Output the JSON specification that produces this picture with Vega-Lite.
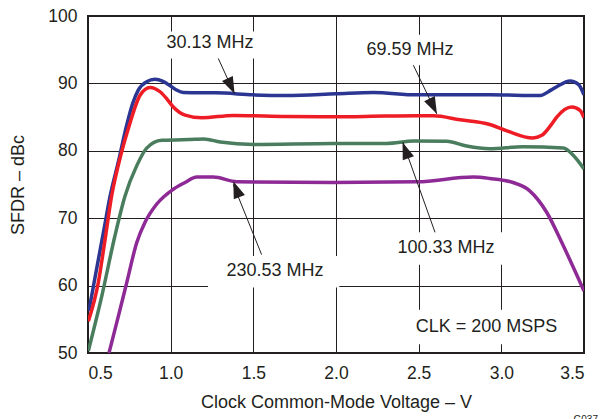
{
  "$schema": "https://vega.github.io/schema/vega-lite/v6.json",
  "width": 496,
  "height": 337,
  "autosize": {"type": "none"},
  "padding": {"left": 88, "top": 16, "right": 32, "bottom": 66},
  "background": "white",
  "config": {
    "font": "Liberation Sans",
    "view": {"stroke": "#231F20", "strokeWidth": 2},
    "axis": {
      "grid": true, "gridColor": "#231F20", "gridWidth": 1, "gridOpacity": 1,
      "domain": false, "ticks": false,
      "labelFont": "Liberation Sans", "labelFontSize": 17.5, "labelColor": "#231F20",
      "titleFont": "Liberation Sans", "titleFontSize": 18, "titleFontWeight": "normal", "titleColor": "#231F20"
    }
  },
  "title": {"text": "G037", "orient": "bottom", "anchor": "end", "fontSize": 10, "fontWeight": "normal", "color": "#231F20", "dx": 14, "offset": 3},
  "datasets": {
    "curves": [
      {"series": "30.13 MHz", "x": 0.505, "y": 56.2},
      {"series": "30.13 MHz", "x": 0.55, "y": 62.2},
      {"series": "30.13 MHz", "x": 0.6, "y": 68.8},
      {"series": "30.13 MHz", "x": 0.633, "y": 73.2},
      {"series": "30.13 MHz", "x": 0.683, "y": 78.3},
      {"series": "30.13 MHz", "x": 0.734, "y": 83.8},
      {"series": "30.13 MHz", "x": 0.77, "y": 87.0},
      {"series": "30.13 MHz", "x": 0.804, "y": 89.0},
      {"series": "30.13 MHz", "x": 0.855, "y": 90.25},
      {"series": "30.13 MHz", "x": 0.905, "y": 90.6},
      {"series": "30.13 MHz", "x": 0.95, "y": 90.35},
      {"series": "30.13 MHz", "x": 0.976, "y": 90.0},
      {"series": "30.13 MHz", "x": 1.03, "y": 89.1},
      {"series": "30.13 MHz", "x": 1.077, "y": 88.65},
      {"series": "30.13 MHz", "x": 1.177, "y": 88.6},
      {"series": "30.13 MHz", "x": 1.27, "y": 88.6},
      {"series": "30.13 MHz", "x": 1.5, "y": 88.3},
      {"series": "30.13 MHz", "x": 1.7, "y": 88.2},
      {"series": "30.13 MHz", "x": 2.0, "y": 88.45},
      {"series": "30.13 MHz", "x": 2.226, "y": 88.65},
      {"series": "30.13 MHz", "x": 2.49, "y": 88.3},
      {"series": "30.13 MHz", "x": 2.93, "y": 88.3},
      {"series": "30.13 MHz", "x": 3.234, "y": 88.2},
      {"series": "30.13 MHz", "x": 3.3, "y": 89.0},
      {"series": "30.13 MHz", "x": 3.335, "y": 89.5},
      {"series": "30.13 MHz", "x": 3.416, "y": 90.35},
      {"series": "30.13 MHz", "x": 3.466, "y": 89.85},
      {"series": "30.13 MHz", "x": 3.5, "y": 88.3},
      {"series": "69.59 MHz", "x": 0.502, "y": 54.7},
      {"series": "69.59 MHz", "x": 0.562, "y": 60.4},
      {"series": "69.59 MHz", "x": 0.6, "y": 66.3},
      {"series": "69.59 MHz", "x": 0.643, "y": 73.3},
      {"series": "69.59 MHz", "x": 0.7, "y": 79.5},
      {"series": "69.59 MHz", "x": 0.75, "y": 83.8},
      {"series": "69.59 MHz", "x": 0.815, "y": 88.25},
      {"series": "69.59 MHz", "x": 0.875, "y": 89.4},
      {"series": "69.59 MHz", "x": 0.936, "y": 88.76},
      {"series": "69.59 MHz", "x": 0.98, "y": 87.6},
      {"series": "69.59 MHz", "x": 1.016, "y": 86.5},
      {"series": "69.59 MHz", "x": 1.087, "y": 85.3},
      {"series": "69.59 MHz", "x": 1.188, "y": 84.9},
      {"series": "69.59 MHz", "x": 1.38, "y": 85.25},
      {"series": "69.59 MHz", "x": 1.7, "y": 85.1},
      {"series": "69.59 MHz", "x": 1.984, "y": 85.05},
      {"series": "69.59 MHz", "x": 2.3, "y": 85.15},
      {"series": "69.59 MHz", "x": 2.59, "y": 85.2},
      {"series": "69.59 MHz", "x": 2.75, "y": 84.6},
      {"series": "69.59 MHz", "x": 2.93, "y": 83.9},
      {"series": "69.59 MHz", "x": 3.03, "y": 83.0},
      {"series": "69.59 MHz", "x": 3.19, "y": 81.9},
      {"series": "69.59 MHz", "x": 3.245, "y": 82.3},
      {"series": "69.59 MHz", "x": 3.3, "y": 83.8},
      {"series": "69.59 MHz", "x": 3.335, "y": 85.0},
      {"series": "69.59 MHz", "x": 3.426, "y": 86.5},
      {"series": "69.59 MHz", "x": 3.476, "y": 86.0},
      {"series": "69.59 MHz", "x": 3.5, "y": 84.9},
      {"series": "100.33 MHz", "x": 0.502, "y": 50.3},
      {"series": "100.33 MHz", "x": 0.583, "y": 58.4},
      {"series": "100.33 MHz", "x": 0.663, "y": 67.4},
      {"series": "100.33 MHz", "x": 0.724, "y": 73.3},
      {"series": "100.33 MHz", "x": 0.795, "y": 77.8},
      {"series": "100.33 MHz", "x": 0.855, "y": 80.4},
      {"series": "100.33 MHz", "x": 0.946, "y": 81.55},
      {"series": "100.33 MHz", "x": 1.147, "y": 81.7},
      {"series": "100.33 MHz", "x": 1.2, "y": 81.75},
      {"series": "100.33 MHz", "x": 1.3, "y": 81.3},
      {"series": "100.33 MHz", "x": 1.5, "y": 80.95},
      {"series": "100.33 MHz", "x": 1.984, "y": 81.1},
      {"series": "100.33 MHz", "x": 2.307, "y": 81.1},
      {"series": "100.33 MHz", "x": 2.47, "y": 81.45},
      {"series": "100.33 MHz", "x": 2.67, "y": 81.4},
      {"series": "100.33 MHz", "x": 2.79, "y": 80.7},
      {"series": "100.33 MHz", "x": 2.93, "y": 80.3},
      {"series": "100.33 MHz", "x": 3.13, "y": 80.6},
      {"series": "100.33 MHz", "x": 3.375, "y": 80.4},
      {"series": "100.33 MHz", "x": 3.436, "y": 79.3},
      {"series": "100.33 MHz", "x": 3.5, "y": 77.3},
      {"series": "230.53 MHz", "x": 0.627, "y": 50.0},
      {"series": "230.53 MHz", "x": 0.683, "y": 55.4},
      {"series": "230.53 MHz", "x": 0.734, "y": 60.4},
      {"series": "230.53 MHz", "x": 0.795, "y": 66.4},
      {"series": "230.53 MHz", "x": 0.845, "y": 69.4},
      {"series": "230.53 MHz", "x": 0.916, "y": 72.1},
      {"series": "230.53 MHz", "x": 1.016, "y": 74.3},
      {"series": "230.53 MHz", "x": 1.087, "y": 75.3},
      {"series": "230.53 MHz", "x": 1.158, "y": 76.1},
      {"series": "230.53 MHz", "x": 1.258, "y": 76.1},
      {"series": "230.53 MHz", "x": 1.4, "y": 75.4},
      {"series": "230.53 MHz", "x": 1.984, "y": 75.3},
      {"series": "230.53 MHz", "x": 2.49, "y": 75.4},
      {"series": "230.53 MHz", "x": 2.83, "y": 76.1},
      {"series": "230.53 MHz", "x": 2.93, "y": 75.9},
      {"series": "230.53 MHz", "x": 3.07, "y": 75.3},
      {"series": "230.53 MHz", "x": 3.17, "y": 74.1},
      {"series": "230.53 MHz", "x": 3.275, "y": 70.85},
      {"series": "230.53 MHz", "x": 3.375, "y": 65.9},
      {"series": "230.53 MHz", "x": 3.5, "y": 59.2}
    ],
    "boxes": [
      {"x": 0.93, "x2": 1.54, "y": 93.7, "y2": 97.7},
      {"x": 2.16, "x2": 2.74, "y": 92.7, "y2": 97.2},
      {"x": 2.35, "x2": 3.02, "y": 63.1, "y2": 67.9},
      {"x": 1.226, "x2": 2.02, "y": 59.7, "y2": 64.4},
      {"x": 2.45, "x2": 3.37, "y": 51.3, "y2": 56.4}
    ],
    "labels": [
      {"x": 1.238, "y": 96.0, "label": "30.13 MHz"},
      {"x": 2.448, "y": 95.0, "label": "69.59 MHz"},
      {"x": 2.665, "y": 65.6, "label": "100.33 MHz"},
      {"x": 1.631, "y": 62.2, "label": "230.53 MHz"},
      {"x": 2.91, "y": 53.8, "label": "CLK = 200 MSPS"}
    ],
    "arrows": [
      {"x": 1.288, "y": 93.7, "x2": 1.385, "y2": 88.5},
      {"x": 2.468, "y": 92.7, "x2": 2.609, "y2": 85.5},
      {"x": 2.599, "y": 67.9, "x2": 2.404, "y2": 81.3},
      {"x": 1.55, "y": 64.6, "x2": 1.379, "y2": 75.0}
    ]
  },
  "layer": [
    {
      "data": {"name": "boxes"},
      "mark": {"type": "rect", "fill": "white", "stroke": null},
      "encoding": {
        "x": {"field": "x", "type": "quantitative", "scale": {"domain": [0.5, 3.5], "nice": false, "zero": false},
              "axis": {"values": [0.5, 1, 1.5, 2, 2.5, 3, 3.5], "format": ".1f", "labelPadding": 11, "titlePadding": 12, "title": "Clock Common-Mode Voltage – V"}},
        "x2": {"field": "x2"},
        "y": {"field": "y", "type": "quantitative", "scale": {"domain": [50, 100], "nice": false, "zero": false},
              "axis": {"values": [50, 60, 70, 80, 90, 100], "labelPadding": 11, "titlePadding": 20, "title": "SFDR – dBc"}},
        "y2": {"field": "y2"}
      }
    },
    {
      "data": {"name": "labels"},
      "mark": {"type": "text", "fontSize": 18, "color": "#231F20", "align": "center", "baseline": "middle"},
      "encoding": {
        "x": {"field": "x", "type": "quantitative"},
        "y": {"field": "y", "type": "quantitative"},
        "text": {"field": "label"}
      }
    },
    {
      "data": {"name": "curves"},
      "mark": {"type": "line", "strokeWidth": 3.5, "interpolate": "monotone", "clip": true},
      "encoding": {
        "x": {"field": "x", "type": "quantitative"},
        "y": {"field": "y", "type": "quantitative"},
        "color": {"field": "series", "type": "nominal", "legend": null,
                  "scale": {"domain": ["30.13 MHz", "69.59 MHz", "100.33 MHz", "230.53 MHz"], "range": ["#2B3592", "#EE1D25", "#4A7D5D", "#8E2A95"]}}
      }
    },
    {
      "data": {"name": "arrows"},
      "mark": {"type": "rule", "color": "#231F20", "strokeWidth": 1},
      "encoding": {
        "x": {"field": "x", "type": "quantitative"},
        "y": {"field": "y", "type": "quantitative"},
        "x2": {"field": "x2"},
        "y2": {"field": "y2"}
      }
    },
    {
      "data": {"values": [{"x": 1.365, "y": 89.6}]},
      "mark": {"type": "point", "shape": "M0,-1L-0.7,1L0.7,1Z", "filled": true, "size": 289, "angle": 155, "color": "#231F20", "opacity": 1},
      "encoding": {"x": {"field": "x", "type": "quantitative"}, "y": {"field": "y", "type": "quantitative"}}
    },
    {
      "data": {"values": [{"x": 2.588, "y": 86.6}]},
      "mark": {"type": "point", "shape": "M0,-1L-0.7,1L0.7,1Z", "filled": true, "size": 289, "angle": 154, "color": "#231F20", "opacity": 1},
      "encoding": {"x": {"field": "x", "type": "quantitative"}, "y": {"field": "y", "type": "quantitative"}}
    },
    {
      "data": {"values": [{"x": 2.42, "y": 80.07}]},
      "mark": {"type": "point", "shape": "M0,-1L-0.7,1L0.7,1Z", "filled": true, "size": 289, "angle": 340, "color": "#231F20", "opacity": 1},
      "encoding": {"x": {"field": "x", "type": "quantitative"}, "y": {"field": "y", "type": "quantitative"}}
    },
    {
      "data": {"values": [{"x": 1.397, "y": 74.3}]},
      "mark": {"type": "point", "shape": "M0,-1L-0.7,1L0.7,1Z", "filled": true, "size": 289, "angle": 339, "color": "#231F20", "opacity": 1},
      "encoding": {"x": {"field": "x", "type": "quantitative"}, "y": {"field": "y", "type": "quantitative"}}
    }
  ]
}
